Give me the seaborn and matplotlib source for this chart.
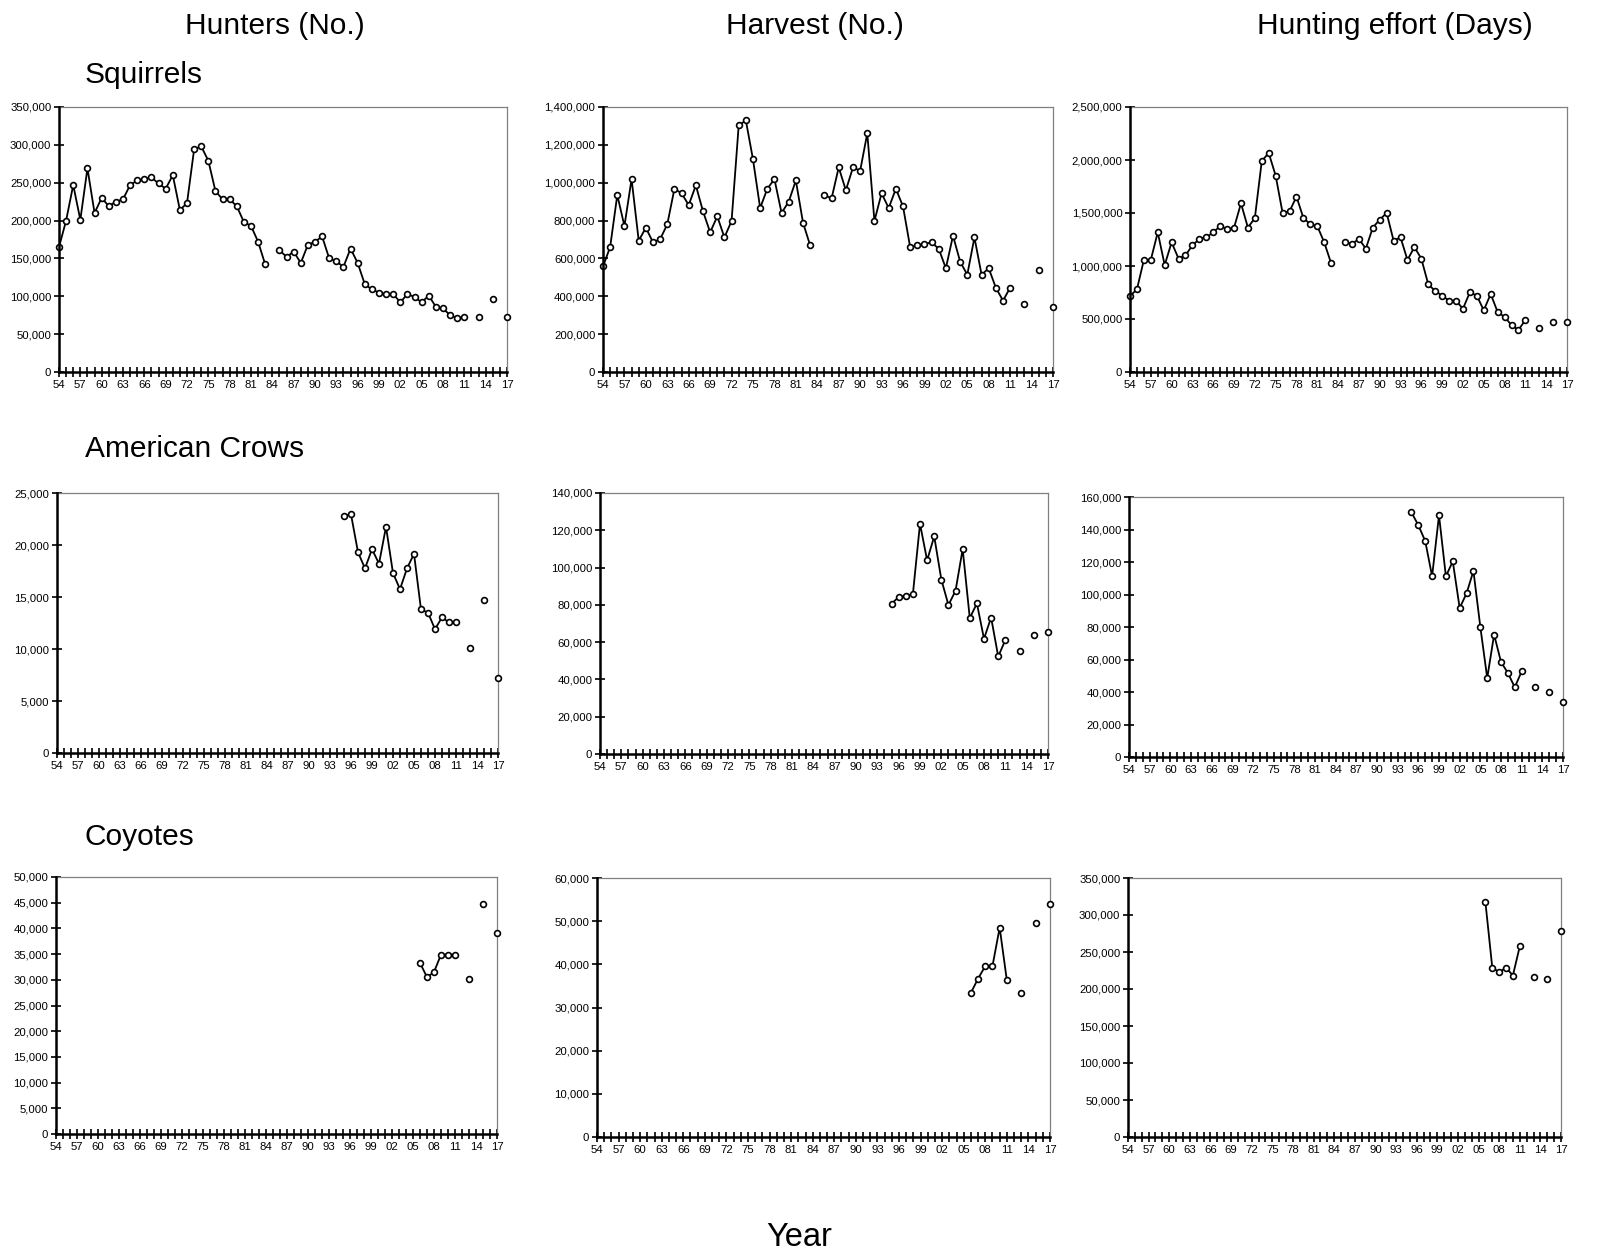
import numpy as np
import pandas as pd
import matplotlib
matplotlib.use("Agg")
import matplotlib.pyplot as plt
import matplotlib.ticker as mticker
import seaborn as sns

# Years surveyed (1984 missing, biennial after 2011)
squirrel_years = list(range(1954, 1984)) + list(range(1985, 2012)) + [2013, 2015, 2017]
crow_years = list(range(1995, 2012)) + [2013, 2015, 2017]
coyote_years = list(range(2006, 2012)) + [2013, 2015, 2017]

# Squirrels
sq_hunters = [165000, 200000, 247000, 201000, 269000, 210000, 230000, 219000, 225000, 228000,
              247000, 253000, 255000, 257000, 249000, 242000, 260000, 214000, 223000, 294000,
              298000, 279000, 239000, 228000, 228000, 219000, 198000, 193000, 172000, 142000,
              161000, 152000, 159000, 144000, 168000, 172000, 179000, 150000, 146000, 139000,
              163000, 144000, 116000, 109000, 105000, 103000, 103000, 92000, 103000, 99000,
              92000, 101000, 86000, 84000, 75000, 71000, 73000,
              73000, 96500, 73000]
sq_harvest = [558000, 660000, 935000, 771000, 1019000, 694000, 762000, 685000, 702000, 780000,
              968000, 944000, 882000, 986000, 849000, 738000, 822000, 711000, 798000, 1303000,
              1329000, 1123000, 866000, 968000, 1019000, 840000, 900000, 1012000, 789000, 669000,
              935000, 917000, 1081000, 960000, 1081000, 1063000, 1261000, 798000, 944000, 866000,
              968000, 875000, 660000, 669000, 676000, 685000, 651000, 548000, 720000, 583000,
              514000, 711000, 514000, 548000, 445000, 377000, 445000,
              359000, 540000, 343000]
sq_effort = [717000, 780000, 1057000, 1057000, 1318000, 1009000, 1223000, 1069000, 1101000, 1195000,
             1255000, 1270000, 1318000, 1377000, 1349000, 1362000, 1591000, 1362000, 1453000, 1991000,
             2066000, 1852000, 1500000, 1516000, 1654000, 1453000, 1393000, 1377000, 1223000, 1025000,
             1223000, 1208000, 1255000, 1164000, 1362000, 1437000, 1500000, 1239000, 1270000, 1057000,
             1179000, 1069000, 827000, 764000, 720000, 673000, 673000, 597000, 752000, 720000,
             582000, 736000, 566000, 519000, 443000, 396000, 491000,
             412000, 475000, 475000]

# American Crows
crow_hunters = [22800, 22950, 19300, 17750, 19600, 18200, 21750, 17300, 15750, 17750,
                19150, 13800, 13500, 11900, 13050, 12550, 12550,
                10100, 14700, 7200]
crow_harvest = [80600, 84200, 84900, 85800, 123500, 103900, 116700, 93600, 79900, 87600,
                109900, 72900, 80800, 61800, 73200, 52300, 61100,
                55000, 63600, 65400]
crow_effort = [150600, 142600, 132900, 111200, 148700, 111200, 120400, 91700, 100700, 114500,
               80000, 48600, 75300, 58500, 51700, 42900, 52700,
               42900, 39800, 33800]

# Coyotes
coy_hunters = [33300, 30500, 31500, 34900, 34900, 34900, 30200, 44700, 39200]
coy_harvest = [33400, 36700, 39600, 39600, 48500, 36300, 33400, 49600, 54000]
coy_effort = [317500, 229000, 222700, 229000, 218200, 257500, 215900, 214100, 278700]

col_titles = ["Hunters (No.)", "Harvest (No.)", "Hunting effort (Days)"]
row_titles = ["Squirrels", "American Crows", "Coyotes"]

panels = [
    (squirrel_years, sq_hunters, 350000, 50000),
    (squirrel_years, sq_harvest, 1400000, 200000),
    (squirrel_years, sq_effort, 2500000, 500000),
    (crow_years, crow_hunters, 25000, 5000),
    (crow_years, crow_harvest, 140000, 20000),
    (crow_years, crow_effort, 160000, 20000),
    (coyote_years, coy_hunters, 50000, 5000),
    (coyote_years, coy_harvest, 60000, 10000),
    (coyote_years, coy_effort, 350000, 50000),
]

# axes boxes in pixels: left, right, top, bottom
boxes = [
    (59, 507, 107, 372), (603, 1053, 107, 372), (1130, 1567, 107, 372),
    (57, 498, 493, 753), (600, 1048, 493, 754), (1129, 1563, 497, 757),
    (56, 497, 877, 1134), (597, 1050, 878, 1137), (1128, 1561, 878, 1137),
]

sns.set_style("white")
plt.rcParams["font.family"] = ["Liberation Sans", "DejaVu Sans"]
plt.rcParams["text.color"] = "black"
plt.rcParams["xtick.color"] = "black"
plt.rcParams["ytick.color"] = "black"
plt.rcParams["xtick.labelcolor"] = "black"
plt.rcParams["ytick.labelcolor"] = "black"

W, H = 1597, 1250
fig = plt.figure(figsize=(W / 100, H / 100), dpi=100)

for (years, vals, ymax, ystep), (l, r, t, b) in zip(panels, boxes):
    ax = fig.add_axes([l / W, 1 - b / H, (r - l) / W, (b - t) / H])
    df = pd.DataFrame({"year": years, "value": vals})
    df["seg"] = (df["year"].diff() > 1).cumsum()
    sns.lineplot(data=df, x="year", y="value", units="seg", estimator=None,
                 color="black", linewidth=1.3, marker="o", markersize=4.2,
                 markerfacecolor="white", markeredgecolor="black", markeredgewidth=1.2,
                 clip_on=False, ax=ax, zorder=5)
    ax.set_xlim(1954, 2017)
    ax.set_ylim(0, ymax)
    ax.xaxis.set_major_locator(mticker.MultipleLocator(3, offset=1954 % 3))
    ax.xaxis.set_minor_locator(mticker.MultipleLocator(1))
    ax.xaxis.set_major_formatter(mticker.FuncFormatter(lambda v, p: f"{int(round(v)) % 100:02d}"))
    ax.yaxis.set_major_locator(mticker.MultipleLocator(ystep))
    ax.yaxis.set_major_formatter(mticker.FuncFormatter(lambda v, p: f"{v:,.0f}"))
    ax.set_xlabel("")
    ax.set_ylabel("")
    ax.tick_params(axis="both", which="both", direction="inout", color="black",
                   labelcolor="black", width=1.2, labelsize=8.2, pad=2,
                   bottom=True, left=True)
    ax.tick_params(axis="both", which="major", length=7)
    ax.tick_params(axis="x", which="minor", length=7)
    for side in ["left", "bottom"]:
        ax.spines[side].set_color("black")
        ax.spines[side].set_linewidth(1.8)
        ax.spines[side].set_zorder(6)
    for side in ["top", "right"]:
        ax.spines[side].set_visible(True)
        ax.spines[side].set_color("#808080")
        ax.spines[side].set_linewidth(0.9)

for txt, cx in zip(col_titles, [275, 815, 1395]):
    fig.text(cx / W, 1 - 34 / H, txt, ha="center", va="baseline", fontsize=21.5, color="black")
for txt, by in zip(row_titles, [83, 457, 845]):
    fig.text(85 / W, 1 - by / H, txt, ha="left", va="baseline", fontsize=21.5, color="black")
fig.text(799 / W, 1 - 1246 / H, "Year", ha="center", va="baseline", fontsize=23.5, color="black")

fig.savefig("out.png", dpi=100, facecolor="white")
